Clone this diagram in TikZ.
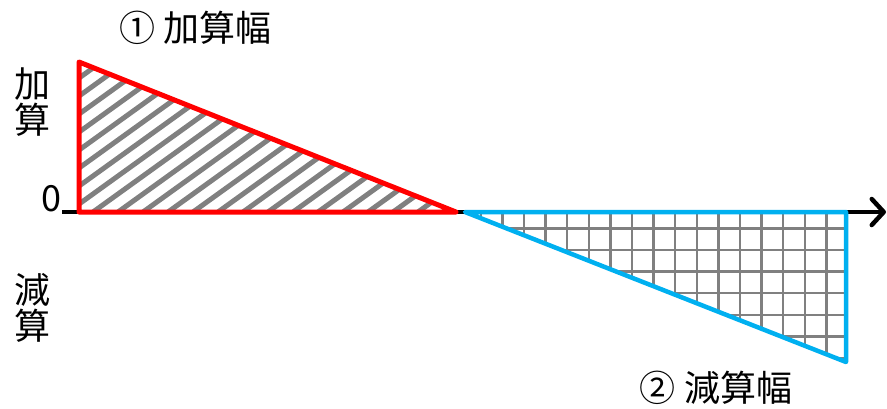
\documentclass[tikz,border=0pt]{standalone}
\usepackage{fontspec}
\newfontfamily\jpfont{Noto Sans CJK JP}
\usetikzlibrary{arrows.meta}
\definecolor{minusblue}{RGB}{0,176,240}

\begin{document}
\begin{tikzpicture}[
  x=1pt, y=-1pt,
  jptext/.style={font=\jpfont\fontsize{36}{36}\selectfont, inner sep=0pt, align=center},
  axis/.style={line width=4.5pt, -{Straight Barb[length=12pt,width=26pt,round]}},
  plusline/.style={draw=red, line width=5pt, line join=round},
  minusline/.style={draw=minusblue, line width=4.5pt, line join=round},
  hatch/.style={draw=gray, line width=5pt},
  gridline/.style={draw=gray, line width=2.4pt}
]
\useasboundingbox (0,0) rectangle (887,408);
\coordinate (start) at (62,212);
\coordinate (tip) at (886,212);
\coordinate (o) at (79,212);
\coordinate (top) at (79,62);
\coordinate (mid) at (456,212);
\coordinate (mid2) at (465,212);
\coordinate (end) at (846,212);
\coordinate (bot) at (846,362);

\draw[axis] (start) -- (tip);

% hatched area
\begin{scope}
  \clip (o) -- (top) -- (mid) -- cycle;
  \foreach \a in {-132,-107,...,468}
    \draw[hatch] (\a,212) -- ++(300,-216);
\end{scope}

% grid area
\begin{scope}
  \clip (mid2) -- (end) -- (bot) -- cycle;
  \foreach \i in {0,...,18}
    \draw[gridline] (459.1+21.6*\i,210) -- ++(0,160);
  \foreach \j in {0,...,7}
    \draw[gridline] (455,228.3+21.6*\j) -- ++(400,0);
\end{scope}

\draw[plusline] (o) -- (top) -- (mid) -- cycle;
\draw[minusline] (mid2) -- (end) -- (bot) -- cycle;

\node[jptext] (title1) at (196,28) {① 加算幅};
\node[jptext] (pluslabel) at (32,102) {加\\算};
\node[jptext] (zero) at (51,199) {0};
\node[jptext] (minuslabel) at (32,308) {減\\算};
\node[jptext] (title2) at (716,388) {② 減算幅};
\end{tikzpicture}
\end{document}
